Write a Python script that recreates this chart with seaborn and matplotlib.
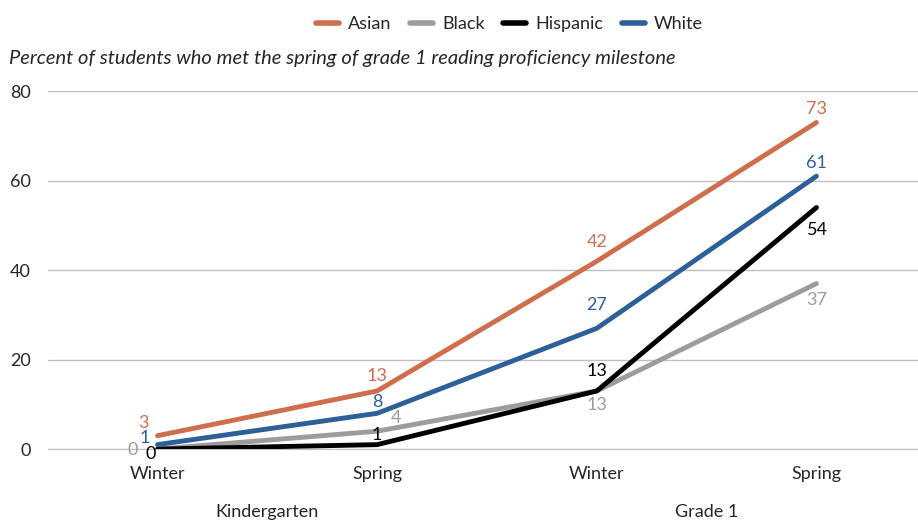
import pandas as pd
import matplotlib.pyplot as plt
import seaborn as sns

# data
periods = ['Winter', 'Spring', 'Winter', 'Spring']
grades = ['Kindergarten', 'Grade 1']
groups = ['Asian', 'Black', 'Hispanic', 'White']
asian = [3, 13, 42, 73]
black = [0, 4, 13, 37]
hispanic = [0, 1, 13, 54]
white = [1, 8, 27, 61]

colors = {'Asian': '#CF6E4C', 'Black': '#9C9C9C', 'Hispanic': '#000000', 'White': '#2D5F99'}

# label offsets (pixels) per group and point
offsets = {
    'Asian': [(-14, 13), (0, 15), (0, 19), (0, 13)],
    'Black': [(-25, -1), (19, 13), (0, -14), (0, -16)],
    'Hispanic': [(-7, -5), (0, 10), (0, 20), (1, -22)],
    'White': [(-13, 7), (0, 11), (0, 23), (0, 13)],
}

values = {'Asian': asian, 'Black': black, 'Hispanic': hispanic, 'White': white}
rows = []
for g in groups:
    for i, v in enumerate(values[g]):
        rows.append({'pos': i, 'group': g, 'pct': v})
df = pd.DataFrame(rows)

sns.set_style('white')
plt.rcParams['font.family'] = ['Lato', 'DejaVu Sans']

fig = plt.figure(figsize=(9.18, 5.21), dpi=100)
ax = fig.add_axes([0.052, 0.138, 0.957, 0.687])

sns.lineplot(data=df, x='pos', y='pct', hue='group', hue_order=groups,
             palette=colors, linewidth=3.5, ax=ax, legend=False)

for g in groups:
    for i, v in enumerate(values[g]):
        dx, dy = offsets[g][i]
        ax.annotate(str(v), (i, v), xytext=(dx, dy), textcoords='offset pixels',
                    ha='center', va='center', fontsize=13, color=colors[g])

ax.set_xlim(-0.5, 3.5)
ax.set_ylim(0, 80)
ax.set_yticks([0, 20, 40, 60, 80])
ax.set_xticks(range(4))
ax.set_xticklabels(periods)
ax.tick_params(axis='both', length=0, labelsize=13)
ax.tick_params(axis='x', pad=12)
ax.tick_params(axis='y', pad=12)
ax.grid(axis='y', color='#BFBFBF', linewidth=1)
ax.set_axisbelow(True)
for s in ['top', 'right', 'left']:
    ax.spines[s].set_visible(False)
ax.spines['bottom'].set_color('#BFBFBF')
ax.set_xlabel('')
ax.set_ylabel('')

for j, gr in enumerate(grades):
    ax.text(0.5 + 2 * j, -0.176, gr, transform=ax.get_xaxis_transform(),
            ha='center', va='center', fontsize=13)

fig.text(0.01, 0.888, 'Percent of students who met the spring of grade 1 reading proficiency milestone',
         fontsize=14.5, style='italic', ha='left', va='center')

handles = [plt.Line2D([], [], color=colors[g], linewidth=4, solid_capstyle='round') for g in groups]
fig.legend(handles, groups, loc='center', bbox_to_anchor=(0.555, 0.953), ncol=4,
           frameon=False, fontsize=13, handlelength=1.3, columnspacing=1.0, handletextpad=0.5)

fig.savefig('out.png', dpi=100)
